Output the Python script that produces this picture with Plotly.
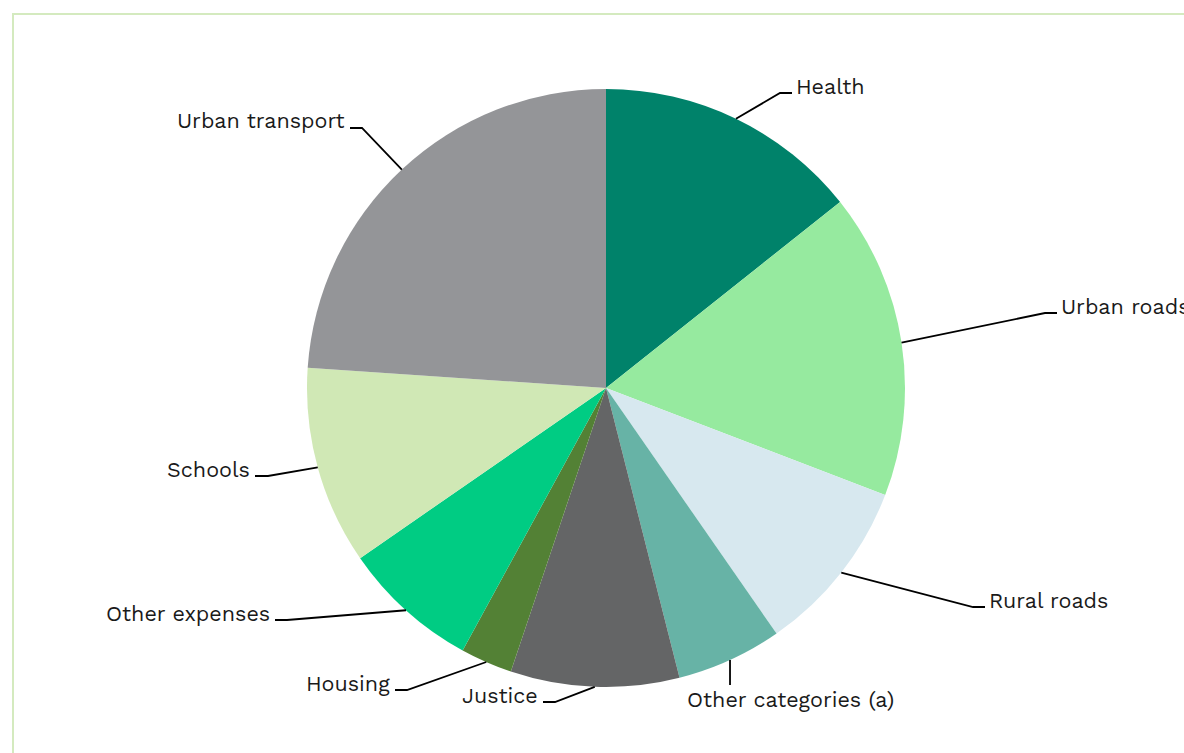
import math
import plotly.graph_objects as go

# ---- data ----
categories = ["Health", "Urban roads", "Rural roads", "Other categories (a)", "Justice",
              "Housing", "Other expenses", "Schools", "Urban transport"]
values = [14.3, 16.5, 9.5, 5.7, 9.1, 2.8, 7.4, 10.7, 23.9]
colors = ["#00826a", "#96ea9f", "#d7e8ef", "#67b3a6", "#646566",
          "#538135", "#00cc83", "#d0e8b5", "#949598"]

# ---- layout (pixels) ----
W, H = 1184, 753
CX, CY, R = 606, 388, 299
# label connector layout: (crook x, line y, end x, side)
label_layout = {
    "Health": (780, 93, 792, "right"),
    "Urban roads": (1045, 313, 1057, "right"),
    "Rural roads": (973, 607, 985, "right"),
    "Other categories (a)": (None, 685, 790, "below"),
    "Justice": (555, 702, 543, "left"),
    "Housing": (407, 690, 395, "left"),
    "Other expenses": (287, 620, 275, "left"),
    "Schools": (268, 476, 255, "left"),
    "Urban transport": (362, 128, 350, "left"),
}


def px(x):
    return x / W


def py(y):
    return 1 - y / H


fig = go.Figure()
fig.add_trace(go.Pie(
    labels=categories, values=values, sort=False, direction="clockwise", rotation=0,
    marker=dict(colors=colors, line=dict(width=0)), textinfo="none",
    hoverinfo="label+percent", showlegend=False,
    domain=dict(x=[px(CX - R), px(CX + R)], y=[py(CY + R), py(CY - R)]),
))

font = dict(family="Work Sans, Noto Sans, sans-serif", size=21.5, color="#1a1a1a")
total = sum(values)
cum = 0.0
shapes = []
annotations = []
for cat, v in zip(categories, values):
    mid = (cum + v / 2) / total * 2 * math.pi
    cum += v
    sx = CX + R * math.sin(mid)
    sy = CY - R * math.cos(mid)
    crook_x, ly, end_x, side = label_layout[cat]
    if side == "below":
        path = f"M {px(sx)} {py(sy)} L {px(sx)} {py(ly)}"
        annotations.append(dict(x=px(end_x), y=py(ly + 14), xref="paper", yref="paper",
                                text=cat, showarrow=False, xanchor="center", yanchor="middle",
                                font=font))
    else:
        path = f"M {px(sx)} {py(sy)} L {px(crook_x)} {py(ly)} L {px(end_x)} {py(ly)}"
        if side == "right":
            annotations.append(dict(x=px(end_x + 2), y=py(ly - 7), xref="paper", yref="paper",
                                    text=cat, showarrow=False, xanchor="left", yanchor="middle",
                                    font=font))
        else:
            annotations.append(dict(x=px(end_x - 3), y=py(ly - 7), xref="paper", yref="paper",
                                    text=cat, showarrow=False, xanchor="right", yanchor="middle",
                                    font=font))
    shapes.append(dict(type="path", path=path, xref="paper", yref="paper",
                       line=dict(color="#000000", width=1.8)))

# outer frame
shapes.append(dict(type="rect", xref="paper", yref="paper",
                   x0=px(13), y0=py(H + 20), x1=px(W + 20), y1=py(14),
                   line=dict(color="#d4eabf", width=2), layer="below"))

fig.update_layout(
    width=W, height=H, margin=dict(l=0, r=0, t=0, b=0),
    paper_bgcolor="white", plot_bgcolor="white",
    shapes=shapes, annotations=annotations,
)
fig.write_html("out.html")
